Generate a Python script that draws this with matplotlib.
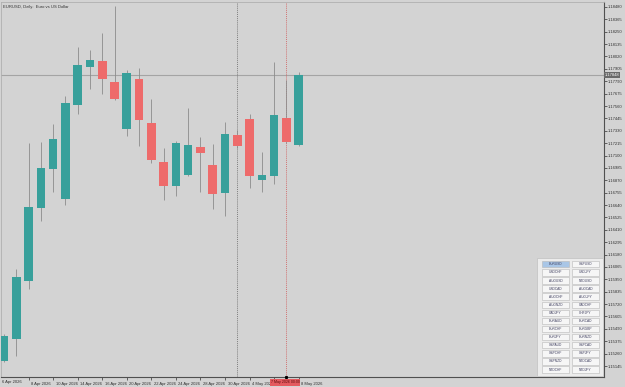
import matplotlib
matplotlib.use("Agg")
import matplotlib.pyplot as plt
import matplotlib.transforms as mtransforms
from matplotlib.patches import Rectangle
import numpy as np

plt.rcParams['font.family'] = ['Liberation Sans', 'DejaVu Sans']

# EURUSD daily candles, 6 Apr 2026 .. 8 May 2026
dates = ["6 Apr", "7 Apr", "8 Apr", "9 Apr", "10 Apr", "13 Apr", "14 Apr", "15 Apr",
         "16 Apr", "17 Apr", "20 Apr", "21 Apr", "22 Apr", "23 Apr", "24 Apr", "27 Apr",
         "28 Apr", "29 Apr", "30 Apr", "1 May", "4 May", "5 May", "6 May", "7 May", "8 May"]
opens = [1.15192, 1.15396, 1.15935, 1.16613, 1.16975, 1.16697, 1.17570, 1.17923,
         1.17978, 1.17783, 1.17347, 1.17811, 1.17403, 1.17040, 1.16817, 1.16919,
         1.17180, 1.17012, 1.16752, 1.17291, 1.17440, 1.16873, 1.16910, 1.17449, 1.17198]
highs = [1.15443, 1.16046, 1.17217, 1.17226, 1.17393, 1.17653, 1.18108, 1.18081,
         1.18239, 1.18490, 1.17895, 1.17913, 1.17625, 1.17170, 1.17235, 1.17542,
         1.17272, 1.17207, 1.17412, 1.17338, 1.17486, 1.17133, 1.17969, 1.17802, 1.17876]
lows = [1.15182, 1.15238, 1.15861, 1.16492, 1.16762, 1.16641, 1.17486, 1.17718,
        1.17672, 1.17616, 1.17282, 1.17189, 1.17031, 1.16687, 1.16724, 1.16910,
        1.16762, 1.16604, 1.16539, 1.17170, 1.16799, 1.16762, 1.16836, 1.17217, 1.17189]
closes = [1.15424, 1.15972, 1.16622, 1.16985, 1.17254, 1.17588, 1.17941, 1.17988,
          1.17811, 1.17625, 1.17867, 1.17430, 1.17059, 1.16817, 1.17217, 1.17198,
          1.17124, 1.16743, 1.17300, 1.17189, 1.16910, 1.16919, 1.17477, 1.17226, 1.17848]

price_ticks = [1.18480 - k * 0.00115 for k in range(30)]
separator_idx = 19      # 1 May period separator
cross_idx = 23          # crosshair bar
cross_label = "7 May 2026 00:00"

symbols = [("EURUSD", "GBPUSD"), ("USDCHF", "USDJPY"), ("AUDUSD", "NZDUSD"),
           ("USDCAD", "AUDCAD"), ("AUDCHF", "AUDJPY"), ("AUDNZD", "CADCHF"),
           ("CADJPY", "CHFJPY"), ("EURAUD", "EURCAD"), ("EURCHF", "EURGBP"),
           ("EURJPY", "EURNZD"), ("GBPAUD", "GBPCAD"), ("GBPCHF", "GBPJPY"),
           ("GBPNZD", "NZDCAD"), ("NZDCHF", "NZDJPY")]

BG = "#d3d3d3"
UP = "#38a09b"
DN = "#ee6b6b"
W, H = 625, 387

fig = plt.figure(figsize=(6.25, 3.87), dpi=100)
fig.patch.set_facecolor(BG)
ax = fig.add_axes([1 / W, 1 - 377 / H, 603 / W, 375 / H])
ax.set_facecolor(BG)

x = np.arange(len(dates))
o = np.array(opens); c = np.array(closes)
colors = [UP if cc >= oo else DN for oo, cc in zip(o, c)]
ax.vlines(x, lows, highs, color="#8c8c8c", lw=0.6, zorder=2)
ax.bar(x, c - o, bottom=o, width=0.7, color=colors, zorder=3, linewidth=0)

ax.set_xlim(-0.244, 48.86)
ax.set_ylim(1.15043, 1.18526)

# current price line
last = closes[-1]
ax.axhline(last, color="#a4a4a4", lw=0.8, zorder=1)
# period separator + crosshair
ax.axvline(separator_idx, color="#606060", lw=0.5, ls=(0, (1.5, 1.5)), zorder=1)
ax.axvline(cross_idx, color="#d05050", lw=0.5, ls=(0, (1.5, 1.5)), zorder=1)

# right price axis
ax.yaxis.tick_right()
ax.set_yticks(price_ticks)
ax.set_yticklabels([f"{p:.5f}" for p in price_ticks])
ax.tick_params(axis="y", length=2, width=0.5, pad=1, labelsize=3, colors="#303030")

# date axis (label under the crosshair box is hidden, as in the terminal)
tick_idx = list(range(2, len(dates), 2))
ax.set_xticks(tick_idx)
ax.set_xticklabels(["" if i == 22 else dates[i] + " 2026" for i in tick_idx])
ax.tick_params(axis="x", length=2, width=0.5, pad=1.5, labelsize=3, colors="#303030")
off = mtransforms.ScaledTranslation(2.5 / 100, 0, fig.dpi_scale_trans)
for lab in ax.get_xticklabels():
    lab.set_ha("left")
    lab.set_transform(lab.get_transform() + off)
ax.text(1 / 603, -0.009, dates[0] + " 2026", transform=ax.transAxes, fontsize=3,
        color="#303030", ha="left", va="top")

for s in ["left", "top"]:
    ax.spines[s].set_color("#b0b0b0")
    ax.spines[s].set_linewidth(0.6)
for s in ["right", "bottom"]:
    ax.spines[s].set_color("#505050")
    ax.spines[s].set_linewidth(0.8)

ax.text(2 / 603, 0.992, "EURUSD, Daily:  Euro vs US Dollar", transform=ax.transAxes,
        fontsize=3, color="#303030", ha="left", va="top")

# price label on the right axis
tr = mtransforms.blended_transform_factory(ax.transAxes, ax.transData)
ax.text(1.001, last, f"{last:.5f}", transform=tr, fontsize=3, color="white",
        ha="left", va="center", clip_on=False, zorder=10,
        bbox=dict(boxstyle="square,pad=0.25", fc="#6a6a6a", ec="none"))

# crosshair date label
trx = mtransforms.blended_transform_factory(ax.transData, ax.transAxes)
ax.add_patch(Rectangle((cross_idx - 1.3, -0.024), 2.4, 0.019, transform=trx,
                       fc="#e45a5f", ec="none", clip_on=False, zorder=9))
ax.text(cross_idx - 0.1, -0.0145, cross_label, transform=trx, fontsize=2.6,
        color="#5a0a0a", ha="center", va="center", clip_on=False, zorder=10)
ax.plot([cross_idx], [0], marker="s", ms=1.2, color="black", transform=trx,
        clip_on=False, zorder=11)

# symbol panel
pw, ph = 66, 118
pan = fig.add_axes([537 / W, 1 - 376 / H, pw / W, ph / H])
pan.set_xlim(0, pw); pan.set_ylim(ph, 0)
pan.axis("off")
pan.add_patch(Rectangle((0, 0), pw, ph, fc="#ececec", ec="#c0c0c0", lw=0.5))
for r, pair in enumerate(symbols):
    for k, name in enumerate(pair):
        bx = 5 + k * 30
        by = 3 + r * 8.1
        fc = "#a9c6e6" if name == "EURUSD" else "#f6f6f6"
        pan.add_patch(Rectangle((bx, by), 27, 6.4, fc=fc, ec="#b8b8b8", lw=0.4))
        pan.text(bx + 13.5, by + 3.3, name, fontsize=2.3, color="#404060",
                 ha="center", va="center")

fig.savefig("out.png", dpi=100, facecolor=BG)
